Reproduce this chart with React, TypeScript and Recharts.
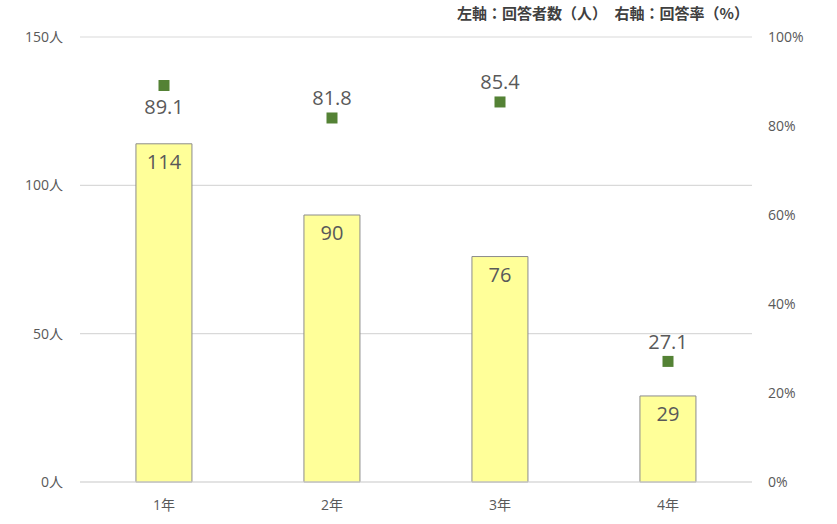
import {
  Bar,
  CartesianGrid,
  ComposedChart,
  LabelList,
  Scatter,
  XAxis,
  YAxis,
} from "recharts";

const CHART_WIDTH = 837;
const CHART_HEIGHT = 524;
const FONT = '"Open Sans", "Noto Sans CJK JP", sans-serif';
const TEXT_COLOR = "#595959";
const BAR_FILL = "#FFFF99";
const BAR_STROKE = "#8c8c8c";
const MARKER_COLOR = "#548235";
const MARKER_SIZE = 11;

const grades = ["1年", "2年", "3年", "4年"];
const respondents = [114, 90, 76, 29];
const responseRates = [89.1, 81.8, 85.4, 27.1];
// label placement of the rate values: true = under the marker
const rateLabelBelow = [true, false, false, false];

const leftTicks = [0, 50, 100, 150];
const rightTicks = [0, 20, 40, 60, 80, 100];

const data = grades.map((grade, i) => ({
  grade,
  count: respondents[i],
  rate: responseRates[i],
}));

function SquareMarker(props: any): React.ReactElement {
  const { cx, cy } = props;
  return (
    <rect
      x={cx - MARKER_SIZE / 2}
      y={cy - MARKER_SIZE / 2}
      width={MARKER_SIZE}
      height={MARKER_SIZE}
      fill={MARKER_COLOR}
    />
  );
}

function RateLabel(props: any): React.ReactElement {
  const { x, y, width, height, value, index } = props;
  const cx = x + (width || 0) / 2;
  const cy = y + (height || 0) / 2;
  const below = rateLabelBelow[index];
  return (
    <text
      x={cx}
      y={below ? cy + 21 : cy - 20}
      textAnchor="middle"
      dominantBaseline="central"
      fontSize={20}
      fontFamily={FONT}
      fill={TEXT_COLOR}
    >
      {value.toFixed(1)}
    </text>
  );
}

export default function App(): React.ReactElement {
  return (
    <div
      style={{
        position: "absolute",
        left: 0,
        top: 0,
        width: CHART_WIDTH,
        height: CHART_HEIGHT,
        background: "#fff",
        fontFamily: FONT,
      }}
    >
      <div
        style={{
          position: "absolute",
          top: 2,
          right: 88,
          fontSize: 15,
          fontWeight: 700,
          fontFamily: '"Noto Sans CJK JP", sans-serif',
          color: "#404040",
          whiteSpace: "pre",
          zIndex: 1,
        }}
      >
        左軸：回答者数（人）　右軸：回答率（%）
      </div>
      <ComposedChart
        width={CHART_WIDTH}
        height={CHART_HEIGHT}
        data={data}
        margin={{ top: 37, right: 0, bottom: 0, left: 0 }}
        barCategoryGap="33.3%"
      >
        <CartesianGrid stroke="#d9d9d9" strokeWidth={1.2} vertical={false} yAxisId="left" />
        <XAxis
          dataKey="grade"
          height={42}
          axisLine={{ stroke: "#d9d9d9", strokeWidth: 1.2 }}
          tickLine={false}
          tickMargin={12}
          tick={{ fontSize: 14, fill: TEXT_COLOR, fontFamily: FONT }}
        />
        <YAxis
          yAxisId="left"
          orientation="left"
          width={80}
          domain={[0, 150]}
          ticks={leftTicks}
          axisLine={false}
          tickLine={false}
          tickMargin={11}
          tickFormatter={(v: number) => `${v}人`}
          tick={{ fontSize: 14, fill: TEXT_COLOR, fontFamily: FONT }}
        />
        <YAxis
          yAxisId="right"
          orientation="right"
          width={85}
          domain={[0, 100]}
          ticks={rightTicks}
          axisLine={false}
          tickLine={false}
          tickMargin={10}
          tickFormatter={(v: number) => `${v}%`}
          tick={{ fontSize: 14, fill: TEXT_COLOR, fontFamily: FONT, textAnchor: "start" }}
        />
        <Bar yAxisId="left" dataKey="count" fill={BAR_FILL} stroke={BAR_STROKE} strokeWidth={1} isAnimationActive={false}>
          <LabelList
            dataKey="count"
            position="insideTop"
            offset={11}
            style={{ fontSize: 20, fill: TEXT_COLOR, fontFamily: FONT }}
          />
        </Bar>
        <Scatter yAxisId="right" dataKey="rate" shape={SquareMarker} isAnimationActive={false}>
          <LabelList dataKey="rate" content={RateLabel} />
        </Scatter>
      </ComposedChart>
    </div>
  );
}
